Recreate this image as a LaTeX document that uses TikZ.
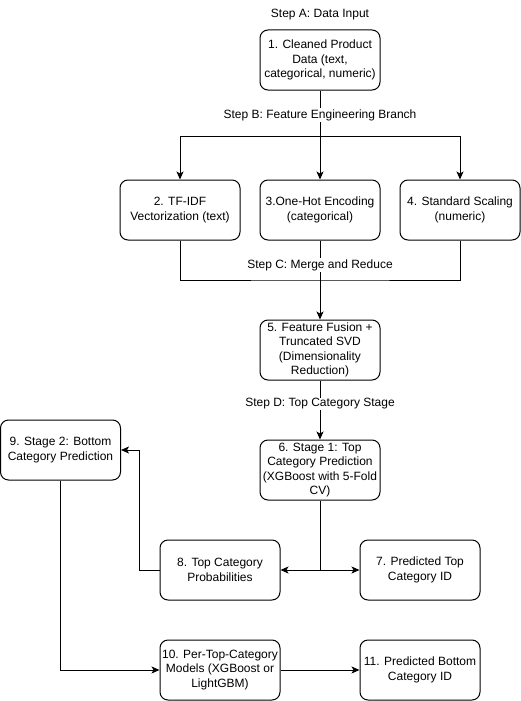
\documentclass[tikz,border=0pt]{standalone}
\usepackage{fontspec}
\setmainfont{Liberation Sans}
\usetikzlibrary{arrows.meta}
\begin{document}
\begin{tikzpicture}[x=1pt,y=-1pt,
 box/.style={draw, rounded corners=8pt, minimum width=120pt, minimum height=60pt, align=center, font=\fontsize{12}{14.4}\selectfont, inner sep=1pt, line width=1pt},
 lbl/.style={font=\fontsize{12}{14.4}\selectfont, fill=white, inner sep=1pt},
 arr/.style={-{Stealth[length=8pt,width=7pt,inset=2pt]}, line width=1pt},
 ln/.style={line width=1pt}]
\useasboundingbox (0,0) rectangle (521,701);
\node[box] (n1) at (320,60) {1. Cleaned Product\\Data (text,\\categorical, numeric)};
\node[box] (n2) at (180,210) {2. TF-IDF\\Vectorization (text)};
\node[box] (n3) at (320,210) {3.One-Hot Encoding\\(categorical)};
\node[box] (n4) at (460,210) {4. Standard Scaling\\(numeric)};
\node[box] (n5) at (320,350) {5. Feature Fusion +\\Truncated SVD\\(Dimensionality\\Reduction)};
\node[box] (n6) at (320,470) {6. Stage 1: Top\\Category Prediction\\(XGBoost with 5-Fold\\CV)};
\node[box] (n7) at (420,570) {7. Predicted Top\\Category ID};
\node[box] (n8) at (220,570) {8. Top Category\\Probabilities};
\node[box] (n9) at (60.5,450) {9. Stage 2: Bottom\\Category Prediction};
\node[box] (n10) at (220,670) {10. Per-Top-Category\\Models (XGBoost or\\LightGBM)};
\node[box] (n11) at (420,670) {11. Predicted Bottom\\Category ID};
\coordinate (b) at (320,136);
\coordinate (c) at (320,280);
\coordinate (d) at (320,570);
\draw[ln] (n1.south) -- (b);
\draw[arr] (b) -| (n2.north);
\draw[arr] (b) -- (n3.north);
\draw[arr] (b) -| (n4.north);
\draw[ln] (n2.south) |- (c) -| (n4.south);
\draw[ln] (n3.south) -- (c);
\draw[arr] (c) -- (n5.north);
\draw[arr] (n5.south) -- (n6.north);
\draw[ln] (n6.south) -- (d);
\draw[arr] (d) -- (n8.east);
\draw[arr] (d) -- (n7.west);
\draw[arr] (n8.west) -- ++(-20,0) |- (n9.east);
\draw[arr] (n9.south) |- (n10.west);
\draw[arr] (n10.east) -- (n11.west);
\node[lbl] (sa) at (320,15) {Step A: Data Input};
\node[lbl] (sb) at (320,115) {Step B: Feature Engineering Branch};
\node[lbl] (sc) at (320,265) {Step C: Merge and Reduce};
\node[lbl] (sd) at (320,404) {Step D: Top Category Stage};
\end{tikzpicture}
\end{document}
